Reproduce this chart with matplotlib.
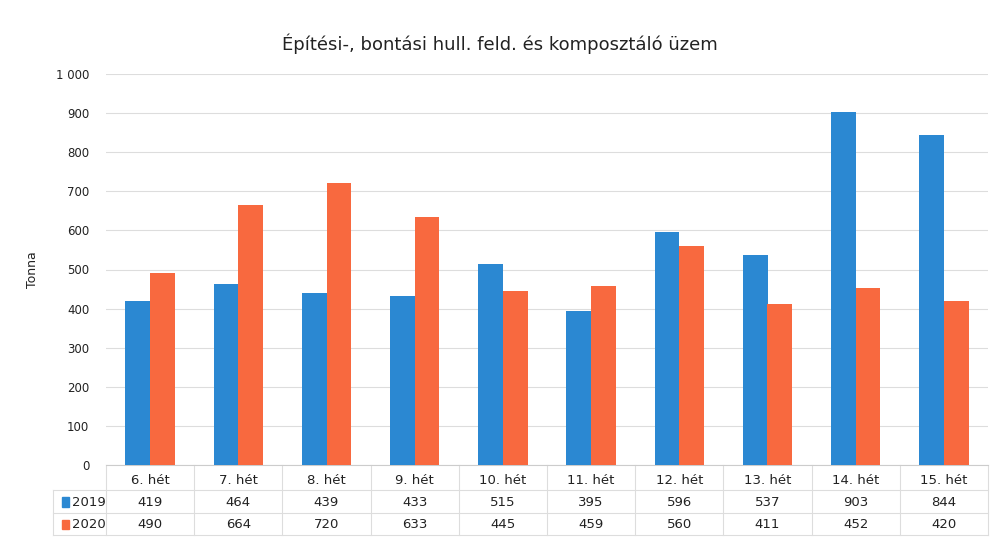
import numpy as np
import matplotlib.pyplot as plt
from matplotlib.patches import Rectangle

weeks = ["6. hét", "7. hét", "8. hét", "9. hét", "10. hét", "11. hét",
         "12. hét", "13. hét", "14. hét", "15. hét"]
y2019 = [419, 464, 439, 433, 515, 395, 596, 537, 903, 844]
y2020 = [490, 664, 720, 633, 445, 459, 560, 411, 452, 420]
series = ["2019", "2020"]

blue = "#2B88D2"
orange = "#F8693F"
W, H = 999, 540

fig = plt.figure(figsize=(9.99, 5.40), dpi=100)
ax = fig.add_axes([106 / W, (540 - 465) / H, 882 / W, 391 / H])

x = np.arange(len(weeks))
bw = 0.28
ax.bar(x - bw / 2, y2019, bw, color=blue, zorder=3)
ax.bar(x + bw / 2, y2020, bw, color=orange, zorder=3)

ax.set_xlim(-0.5, len(weeks) - 0.5)
ax.set_ylim(0, 1000)
ax.set_yticks(np.arange(0, 1001, 100))
ax.set_yticklabels(["0"] + [str(v) if v < 1000 else "1 000" for v in range(100, 1001, 100)],
                   fontsize=8.5, color="#222222")
ax.tick_params(axis="y", length=0, pad=12)
ax.set_xticks([])
ax.grid(axis="y", color="#dddddd", linewidth=0.8, zorder=0)
for s in ["top", "right", "left"]:
    ax.spines[s].set_visible(False)
ax.spines["bottom"].set_color("#cccccc")
ax.set_ylabel("Tonna", fontsize=9, color="#222222", labelpad=12)

fig.text(0.5, 1 - 44 / H, "Építési-, bontási hull. feld. és komposztáló üzem",
         ha="center", va="center", fontsize=13, color="#222222")

# data table under the plot
tr = ax.get_xaxis_transform()
rows_y = [-0.04, -0.095, -0.152]
lines_y = [0, -0.065, -0.123, -0.18]
for i, w in enumerate(weeks):
    ax.text(i, rows_y[0], w, transform=tr, ha="center", va="center", fontsize=9.5, color="#222222")
    ax.text(i, rows_y[1], str(y2019[i]), transform=tr, ha="center", va="center", fontsize=9.5, color="#222222")
    ax.text(i, rows_y[2], str(y2020[i]), transform=tr, ha="center", va="center", fontsize=9.5, color="#222222")
for b in np.arange(-0.5, len(weeks), 1.0):
    ax.plot([b, b], [0, lines_y[-1]], transform=tr, color="#dddddd", lw=0.8, clip_on=False)
for ly in lines_y[1:]:
    ax.plot([-1.1, len(weeks) - 0.5], [ly, ly], transform=tr, color="#dddddd", lw=0.8, clip_on=False)
ax.plot([-1.1, -1.1], [lines_y[1], lines_y[-1]], transform=tr, color="#dddddd", lw=0.8, clip_on=False)
for name, col, ry in zip(series, [blue, orange], rows_y[1:]):
    ax.add_patch(Rectangle((-1.0, ry - 0.012), 0.08, 0.024, transform=tr, color=col, clip_on=False))
    ax.text(-0.88, ry, name, transform=tr, ha="left", va="center", fontsize=9.5, color="#222222")

fig.savefig("out.png", dpi=100)
